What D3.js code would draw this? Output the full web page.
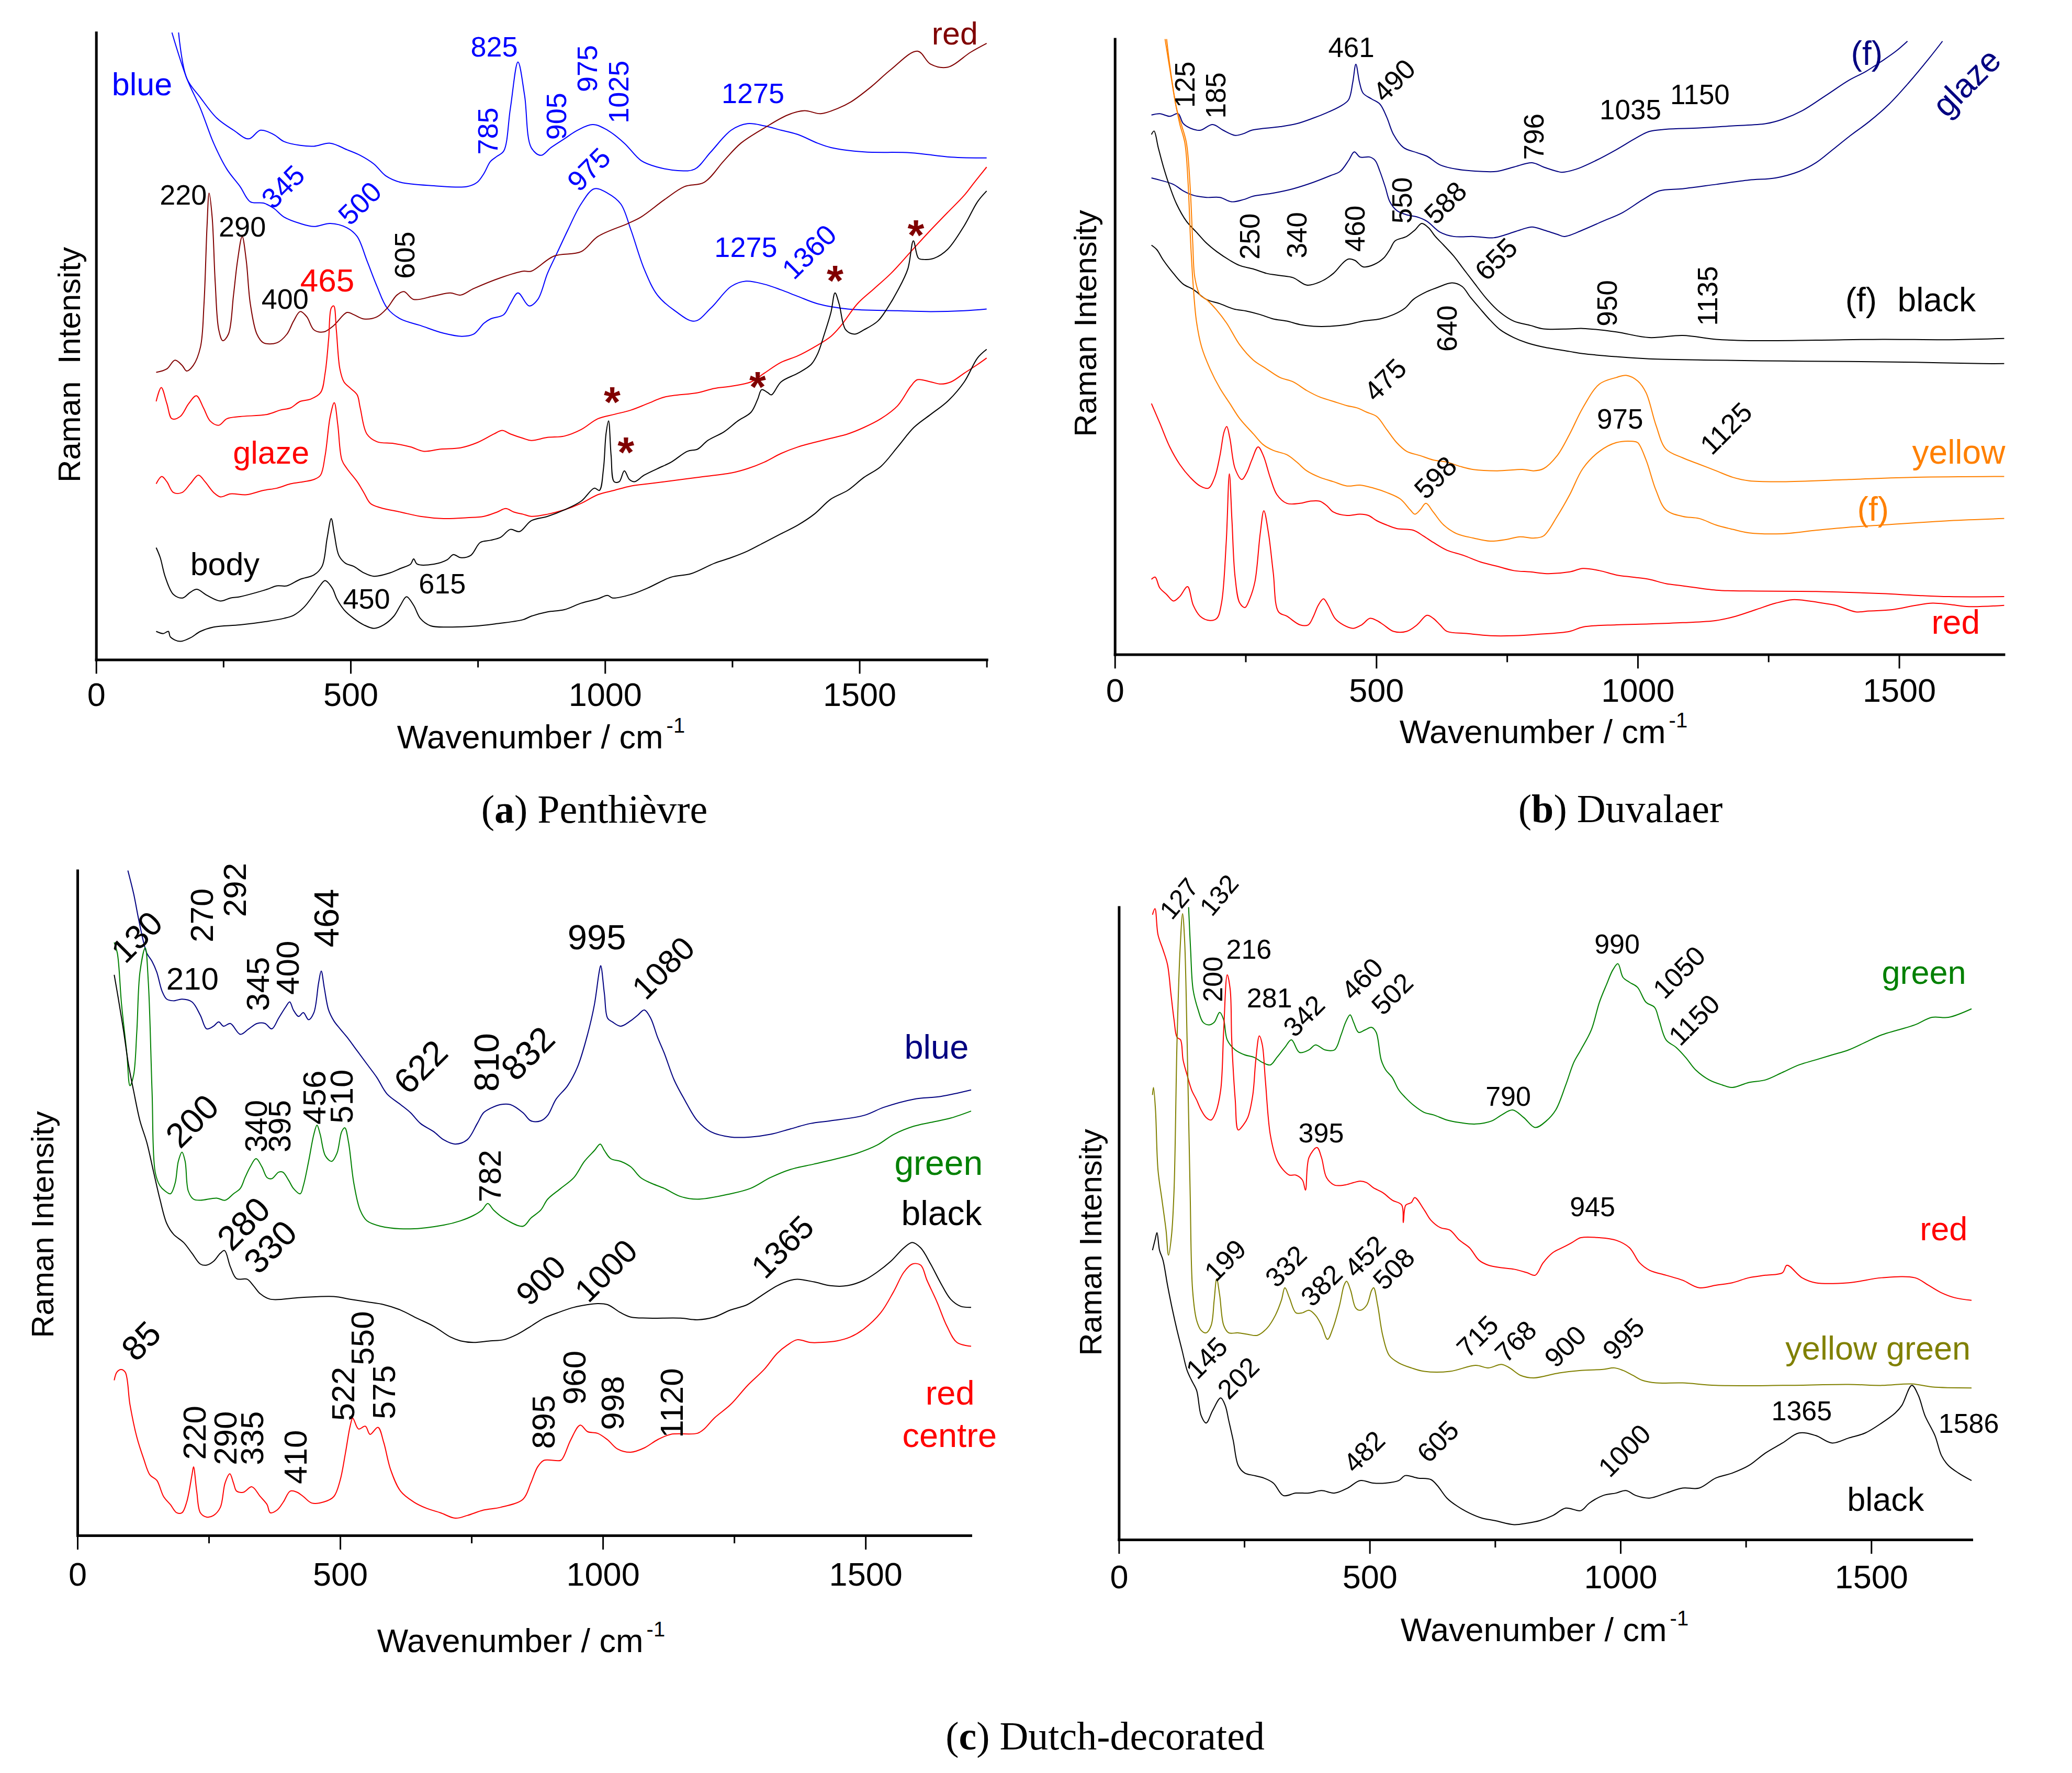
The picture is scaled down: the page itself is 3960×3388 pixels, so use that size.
<!DOCTYPE html>
<html>
<head>
<meta charset="utf-8">
<script src="https://cdn.jsdelivr.net/npm/d3@7"></script>
<style>
  html, body { margin: 0; padding: 0; background: #fff; }
  svg text { font-family: "Liberation Sans", Arial, sans-serif; white-space: pre; }
</style>
</head>
<body>
<svg id="fig" width="3960" height="3388"></svg>
<script>
// ---- Raman spectra, [wavenumber cm-1, intensity a.u.] ----

// (a) Penthievre
const aBlueTop = [[162,1445],[178,1340],[205,1295],[237,1248],[270,1220],[300,1200],[323,1220],[349,1210],[369,1194],[401,1185],[428,1183],[460,1190],[493,1175],[519,1162],[546,1142],[569,1115],[598,1100],[664,1092],[729,1090],[749,1100],[762,1120],[775,1148],[788,1160],[801,1172],[814,1270],[829,1377],[842,1300],[855,1180],[874,1162],[894,1180],[920,1200],[946,1220],[976,1233],[1005,1220],[1038,1190],[1071,1150],[1103,1135],[1143,1127],[1176,1130],[1208,1170],[1248,1220],[1280,1235],[1313,1230],[1346,1220],[1379,1210],[1418,1190],[1444,1180],[1509,1170],[1601,1168],[1680,1158],[1750,1156]];
const aBlueLow = [[149,1445],[178,1340],[205,1270],[231,1190],[257,1130],[283,1090],[303,1055],[329,1052],[349,1040],[369,1020],[401,1005],[428,998],[460,1005],[493,995],[513,975],[532,920],[552,860],[572,810],[598,785],[637,770],[683,752],[719,745],[742,750],[762,775],[775,785],[801,795],[814,820],[829,845],[851,815],[868,830],[887,890],[907,940],[927,990],[953,1050],[979,1085],[1005,1075],[1031,1050],[1051,990],[1077,900],[1103,840],[1136,805],[1176,780],[1208,810],[1248,860],[1277,872],[1313,865],[1346,852],[1379,837],[1418,820],[1477,808],[1575,804],[1640,802],[1706,804],[1750,808]];
const aRed = [[118,662],[139,670],[155,690],[169,678],[178,665],[191,678],[205,720],[212,820],[218,1000],[222,1075],[228,1020],[234,870],[241,760],[249,735],[260,750],[270,840],[278,920],[287,975],[295,920],[303,820],[316,750],[329,730],[355,730],[375,750],[388,780],[401,802],[414,790],[428,760],[447,755],[467,770],[493,800],[506,795],[526,785],[552,790],[572,810],[591,840],[605,848],[624,830],[664,838],[696,845],[716,840],[742,855],[795,880],[839,895],[855,895],[900,930],[953,940],[986,975],[1045,1005],[1071,1020],[1117,1060],[1156,1090],[1195,1100],[1234,1150],[1267,1190],[1313,1225],[1359,1255],[1392,1265],[1424,1258],[1457,1270],[1483,1285],[1523,1320],[1562,1360],[1614,1402],[1640,1372],[1673,1365],[1719,1400],[1750,1420]];
const aGlazeTop = [[118,595],[128,627],[139,590],[149,555],[165,560],[182,590],[197,608],[211,580],[224,550],[241,540],[257,555],[283,560],[336,565],[362,575],[382,580],[401,595],[421,600],[441,615],[450,660],[457,740],[462,810],[467,815],[472,760],[479,670],[487,640],[500,625],[513,610],[519,580],[532,520],[552,502],[585,498],[618,490],[644,480],[677,485],[716,488],[749,500],[782,520],[798,528],[814,520],[839,510],[855,505],[887,512],[920,515],[953,530],[986,555],[1018,565],[1051,575],[1084,590],[1117,605],[1182,615],[1215,625],[1248,630],[1287,640],[1313,660],[1346,685],[1379,700],[1411,720],[1444,745],[1464,770],[1496,820],[1529,855],[1562,890],[1601,940],[1640,990],[1673,1030],[1706,1070],[1726,1100],[1750,1135]];
const aGlazeLow = [[118,405],[129,422],[139,410],[152,385],[169,385],[185,405],[201,425],[214,410],[231,385],[244,375],[264,382],[296,380],[329,390],[355,395],[382,405],[408,410],[428,415],[441,425],[450,470],[460,560],[468,592],[475,540],[483,460],[493,440],[513,410],[526,385],[539,360],[559,350],[598,340],[637,330],[683,325],[729,327],[762,330],[788,340],[805,348],[821,340],[839,335],[855,330],[887,335],[920,345],[953,360],[986,380],[1018,390],[1051,400],[1084,405],[1117,410],[1182,420],[1248,430],[1280,440],[1313,455],[1346,475],[1379,490],[1444,510],[1477,520],[1509,535],[1542,555],[1575,585],[1601,630],[1614,645],[1640,640],[1660,635],[1680,640],[1706,660],[1732,680],[1750,695]];
const aBodyTop = [[118,258],[126,235],[136,190],[152,150],[170,142],[185,155],[198,162],[218,148],[244,135],[264,142],[283,145],[316,155],[336,162],[355,170],[375,170],[401,185],[428,195],[444,215],[454,280],[462,325],[468,290],[477,240],[490,222],[506,215],[526,200],[546,192],[578,200],[598,210],[618,220],[624,232],[631,220],[664,220],[690,230],[702,242],[716,235],[736,240],[755,270],[775,275],[795,282],[814,300],[832,295],[855,320],[887,330],[920,345],[953,365],[979,395],[989,390],[997,440],[1002,520],[1007,550],[1012,470],[1018,410],[1028,410],[1038,435],[1048,415],[1058,410],[1077,425],[1103,440],[1130,455],[1162,480],[1182,485],[1202,505],[1234,525],[1261,550],[1287,570],[1300,600],[1308,622],[1320,615],[1327,610],[1346,640],[1379,660],[1405,680],[1418,705],[1431,750],[1444,800],[1452,845],[1460,820],[1473,760],[1490,750],[1509,760],[1536,780],[1555,810],[1575,850],[1595,900],[1606,965],[1616,925],[1627,922],[1647,925],[1673,945],[1706,1000],[1732,1055],[1750,1080]];
const aBodyLow = [[118,65],[132,60],[142,65],[146,52],[165,42],[185,50],[205,65],[231,75],[283,80],[336,88],[369,95],[388,102],[408,120],[428,150],[441,172],[450,182],[464,165],[473,140],[487,115],[506,95],[526,80],[546,72],[565,80],[585,100],[598,125],[610,145],[624,125],[637,95],[657,78],[696,75],[742,77],[782,82],[839,92],[855,100],[887,110],[920,115],[953,130],[986,140],[1005,148],[1015,142],[1051,150],[1084,165],[1130,190],[1169,198],[1215,222],[1248,235],[1280,250],[1313,270],[1346,290],[1379,310],[1411,335],[1444,370],[1477,390],[1509,420],[1542,445],[1575,490],[1607,535],[1640,565],[1673,595],[1706,640],[1732,695],[1750,715]];
const aStars = [[1014,615],[1041,500],[1300,650],[1452,895],[1611,1000]];

// (b) Duvalaer
const bGlazeF = [[70,1243],[86,1246],[105,1240],[121,1246],[131,1223],[150,1210],[164,1208],[187,1221],[207,1208],[230,1196],[246,1200],[262,1208],[316,1216],[348,1223],[380,1236],[405,1248],[431,1263],[447,1278],[455,1318],[461,1360],[468,1318],[475,1293],[491,1280],[507,1268],[520,1238],[533,1198],[552,1168],[578,1156],[597,1148],[622,1128],[654,1118],[699,1113],[731,1113],[763,1123],[798,1133],[820,1123],[846,1113],[855,1111],[882,1118],[920,1138],[959,1163],[997,1190],[1022,1205],[1054,1210],[1118,1213],[1182,1218],[1245,1223],[1277,1233],[1315,1253],[1360,1288],[1404,1323],[1436,1343],[1468,1368],[1494,1390],[1516,1413]];
const bGlaze = [[70,1098],[86,1093],[112,1083],[131,1068],[150,1058],[175,1053],[201,1053],[223,1043],[246,1048],[265,1056],[303,1063],[341,1073],[380,1088],[412,1103],[431,1113],[447,1138],[458,1158],[469,1146],[488,1146],[498,1138],[507,1113],[517,1078],[526,1043],[539,1023],[558,1013],[578,1008],[597,998],[622,973],[648,963],[686,963],[724,960],[750,968],[775,978],[798,985],[820,978],[846,968],[860,963],[895,978],[933,998],[971,1018],[1010,1048],[1041,1068],[1086,1073],[1150,1083],[1213,1093],[1264,1098],[1309,1113],[1341,1133],[1373,1163],[1404,1193],[1443,1228],[1481,1268],[1519,1318],[1557,1373],[1583,1413]];
const bBlackF = [[70,1198],[75,1206],[83,1168],[93,1123],[105,1078],[118,1038],[137,998],[156,973],[175,948],[195,928],[220,908],[239,896],[265,888],[290,878],[316,873],[341,868],[367,851],[392,858],[418,878],[437,903],[447,911],[459,908],[475,893],[495,898],[514,913],[526,933],[536,953],[558,963],[574,978],[587,993],[600,983],[613,963],[629,943],[648,918],[667,888],[686,858],[712,818],[737,788],[763,768],[795,758],[820,750],[870,750],[895,751],[959,743],[1022,730],[1086,735],[1150,726],[1213,723],[1341,724],[1468,726],[1596,725],[1701,728]];
const bBlack = [[70,943],[80,933],[93,908],[112,878],[131,853],[150,841],[175,818],[201,808],[227,796],[252,791],[278,783],[303,773],[329,768],[354,760],[380,756],[412,756],[444,760],[475,768],[507,773],[533,783],[555,798],[571,818],[597,836],[616,845],[645,856],[664,848],[680,823],[699,796],[718,770],[737,748],[763,730],[788,718],[820,708],[870,698],[895,693],[959,686],[1022,681],[1150,678],[1277,676],[1404,675],[1532,673],[1659,670],[1701,670]];
const bYellow = [[96,1418],[108,1328],[118,1258],[128,1218],[137,1178],[144,1078],[149,948],[153,868],[163,828],[175,818],[195,793],[214,763],[239,713],[265,678],[290,658],[316,638],[341,628],[367,608],[392,593],[418,583],[444,573],[463,568],[482,558],[501,548],[520,518],[539,488],[558,468],[584,458],[609,448],[635,443],[661,433],[686,426],[731,423],[782,426],[801,423],[820,428],[846,458],[870,508],[895,568],[927,623],[959,638],[978,643],[1000,630],[1016,603],[1035,528],[1054,473],[1086,453],[1118,438],[1150,423],[1182,408],[1213,400],[1277,398],[1404,403],[1532,408],[1701,410]];
const bYellowF = [[99,1418],[105,1358],[115,1278],[124,1223],[134,1178],[140,1088],[145,948],[150,848],[156,768],[166,708],[182,658],[201,613],[220,578],[239,543],[265,508],[284,483],[303,470],[329,460],[348,443],[367,423],[392,408],[418,398],[444,388],[469,390],[495,383],[520,373],[546,358],[565,333],[574,323],[584,333],[595,348],[609,328],[629,298],[654,278],[686,268],[718,261],[750,265],[775,271],[801,268],[820,273],[846,318],[870,368],[895,428],[927,468],[959,488],[990,491],[1000,488],[1016,448],[1035,378],[1054,333],[1086,318],[1118,313],[1150,298],[1182,288],[1213,280],[1277,278],[1341,286],[1404,293],[1468,298],[1596,308],[1701,313]];
const bRedTop = [[70,578],[86,533],[105,478],[124,438],[144,408],[163,388],[179,383],[191,408],[201,458],[209,513],[214,525],[220,498],[230,428],[243,403],[252,418],[262,448],[274,478],[284,458],[297,408],[310,368],[329,348],[354,348],[373,353],[392,353],[405,343],[418,328],[444,320],[469,323],[485,320],[501,308],[520,298],[539,290],[571,286],[590,273],[609,258],[635,240],[667,228],[699,213],[731,203],[763,193],[795,190],[826,186],[870,190],[895,198],[927,193],[959,183],[990,178],[1022,173],[1054,163],[1086,158],[1150,148],[1213,146],[1341,145],[1468,140],[1532,136],[1596,133],[1701,133]];
const bRed = [[70,173],[77,178],[86,153],[99,138],[112,123],[124,133],[139,156],[150,113],[163,88],[182,78],[195,83],[204,118],[213,258],[219,416],[224,308],[230,178],[239,118],[249,108],[258,128],[268,168],[278,278],[285,331],[294,278],[303,188],[313,98],[329,88],[354,68],[370,68],[380,88],[389,113],[399,128],[408,113],[421,83],[437,68],[456,60],[472,68],[488,83],[501,78],[514,68],[533,53],[558,53],[578,68],[597,90],[609,83],[622,68],[635,53],[673,48],[718,43],[763,43],[807,46],[870,53],[895,63],[959,68],[1022,70],[1086,73],[1150,78],[1188,88],[1226,103],[1264,118],[1296,126],[1328,123],[1354,118],[1379,113],[1417,98],[1443,100],[1487,103],[1532,113],[1564,118],[1596,115],[1634,110],[1701,113]];

// (c) Dutch-decorated, left
const cBlue = [[96,1230],[107,1187],[116,1142],[126,1097],[132,1077],[142,1062],[151,1042],[161,1007],[170,992],[183,989],[199,992],[218,987],[234,962],[246,937],[259,942],[269,950],[278,942],[291,947],[310,927],[326,937],[342,947],[357,947],[370,937],[383,957],[396,977],[404,987],[411,972],[421,960],[430,967],[440,954],[450,967],[459,1022],[464,1044],[470,1012],[478,972],[488,952],[500,937],[513,922],[532,897],[551,872],[570,847],[589,817],[615,797],[634,782],[653,762],[678,747],[697,732],[719,724],[742,732],[761,762],[773,782],[786,790],[805,797],[824,797],[848,782],[863,767],[882,767],[895,777],[911,807],[933,832],[952,867],[971,927],[984,982],[993,1042],[996,1054],[1003,1002],[1009,957],[1018,950],[1034,942],[1053,952],[1066,962],[1079,972],[1091,957],[1104,922],[1117,892],[1136,842],[1155,807],[1180,767],[1205,747],[1243,737],[1281,737],[1319,742],[1357,752],[1395,762],[1433,767],[1497,777],[1535,792],[1592,807],[1643,812],[1701,824]];
const cGreen = [[70,1097],[76,1077],[84,982],[94,892],[100,832],[107,852],[113,932],[119,1042],[129,1087],[135,1022],[142,822],[148,672],[157,647],[167,637],[177,632],[186,652],[192,692],[199,709],[205,692],[211,637],[221,622],[234,620],[265,624],[281,620],[297,632],[310,642],[319,662],[329,682],[340,697],[351,682],[361,662],[370,660],[383,672],[391,672],[402,657],[411,642],[424,632],[430,647],[440,692],[450,742],[456,759],[462,742],[472,702],[484,692],[494,707],[503,747],[509,754],[516,727],[526,652],[538,602],[551,582],[577,572],[634,567],[697,574],[729,582],[754,592],[770,602],[781,614],[792,602],[811,587],[848,572],[863,587],[882,602],[895,622],[920,642],[945,662],[965,692],[984,712],[995,724],[1003,712],[1015,697],[1034,692],[1053,682],[1072,662],[1091,652],[1117,642],[1148,627],[1180,622],[1243,632],[1281,642],[1319,662],[1357,677],[1402,687],[1446,697],[1484,707],[1522,722],[1554,742],[1592,757],[1624,764],[1662,772],[1701,785]];
const cBlack = [[70,1037],[78,992],[88,932],[97,872],[107,822],[119,767],[132,727],[145,672],[157,622],[170,577],[183,557],[202,542],[218,522],[234,502],[246,500],[259,507],[272,522],[280,527],[291,497],[303,475],[323,474],[335,462],[348,447],[367,437],[424,440],[488,442],[519,437],[551,432],[583,427],[615,417],[646,402],[678,387],[710,367],[729,360],[754,357],[786,360],[811,362],[837,372],[863,387],[888,402],[914,412],[945,422],[971,427],[990,429],[1009,427],[1034,412],[1053,404],[1085,402],[1148,402],[1180,399],[1212,404],[1243,417],[1275,427],[1307,447],[1332,462],[1357,472],[1370,474],[1402,469],[1433,462],[1465,462],[1497,472],[1522,487],[1548,507],[1573,532],[1589,542],[1605,532],[1624,502],[1643,467],[1662,437],[1681,424],[1701,422]];
const cRed = [[70,287],[75,302],[83,307],[91,302],[100,242],[113,182],[126,142],[138,112],[151,102],[164,72],[177,57],[189,42],[199,42],[208,62],[218,112],[221,127],[227,82],[234,42],[246,34],[259,37],[272,52],[281,97],[290,114],[297,97],[303,82],[316,80],[332,90],[348,72],[361,57],[367,42],[380,47],[392,62],[405,82],[418,80],[430,72],[446,60],[469,62],[488,72],[500,102],[510,152],[519,202],[524,217],[535,197],[548,202],[557,187],[572,200],[583,172],[596,122],[615,82],[640,62],[665,50],[691,42],[719,32],[742,37],[773,47],[805,52],[848,67],[863,97],[876,127],[888,139],[920,139],[926,147],[939,177],[957,204],[971,192],[990,189],[1009,177],[1028,160],[1053,154],[1079,162],[1104,177],[1129,187],[1180,189],[1193,197],[1212,217],[1243,242],[1275,277],[1307,307],[1332,337],[1351,352],[1370,362],[1395,357],[1414,357],[1446,360],[1471,367],[1497,382],[1529,412],[1554,452],[1573,487],[1589,502],[1605,500],[1617,472],[1636,432],[1655,387],[1674,357],[1701,350]];

// (c) Dutch-decorated, right
const dGreen = [[139,1263],[143,1178],[148,1098],[158,1058],[168,1033],[180,1028],[190,1033],[201,1053],[209,1038],[216,998],[232,978],[251,968],[270,963],[286,953],[302,948],[315,963],[331,983],[344,998],[360,973],[379,978],[392,988],[411,978],[430,978],[443,1008],[452,1033],[461,1048],[468,1033],[478,1013],[491,1018],[504,1023],[513,1013],[523,958],[532,938],[545,923],[558,898],[571,883],[587,868],[609,853],[628,848],[654,838],[679,833],[711,830],[743,836],[763,848],[785,858],[807,843],[830,823],[852,836],[871,858],[891,908],[907,953],[921,978],[942,1018],[958,1073],[972,1108],[985,1138],[995,1150],[1005,1123],[1018,1113],[1034,1103],[1051,1073],[1068,1063],[1077,1038],[1091,998],[1111,983],[1130,963],[1150,938],[1177,918],[1203,908],[1223,903],[1256,913],[1289,918],[1323,933],[1356,948],[1389,958],[1422,968],[1455,978],[1488,993],[1521,1008],[1554,1018],[1587,1028],[1621,1043],[1654,1043],[1700,1060]];
const dRed = [[67,1248],[72,1260],[78,1208],[88,1178],[97,1148],[104,1088],[110,1038],[116,1003],[123,998],[128,958],[136,928],[145,898],[155,878],[164,858],[174,843],[184,838],[193,853],[203,898],[209,1018],[216,1128],[222,1098],[225,998],[232,878],[238,818],[248,828],[257,843],[267,888],[273,958],[280,1006],[286,988],[292,918],[302,808],[315,758],[328,738],[340,728],[353,728],[366,718],[372,698],[379,763],[395,783],[404,763],[414,723],[430,708],[449,708],[468,713],[481,716],[494,713],[507,703],[526,693],[545,678],[564,668],[567,633],[572,668],[583,673],[590,683],[609,658],[622,638],[641,623],[660,618],[679,598],[699,583],[718,558],[737,548],[763,543],[788,540],[814,533],[830,528],[846,553],[865,573],[884,583],[903,593],[921,603],[958,603],[991,598],[1018,583],[1038,553],[1058,538],[1091,528],[1124,518],[1157,503],[1190,508],[1223,513],[1256,523],[1289,528],[1323,533],[1332,548],[1362,523],[1389,513],[1455,513],[1521,523],[1587,523],[1614,508],[1640,493],[1667,483],[1700,478]];
const dOlive = [[67,888],[69,903],[73,858],[78,738],[86,678],[94,618],[99,568],[105,608],[110,698],[116,998],[122,1178],[127,1250],[131,1198],[136,998],[142,698],[147,498],[155,438],[164,418],[174,413],[184,428],[190,478],[195,521],[201,488],[209,428],[219,413],[238,413],[257,410],[276,408],[296,423],[312,448],[324,478],[331,503],[340,483],[353,453],[366,453],[379,458],[392,448],[404,428],[416,400],[427,423],[440,468],[449,508],[454,516],[462,498],[472,463],[481,458],[494,468],[504,498],[508,503],[516,468],[526,408],[539,368],[558,353],[583,343],[609,336],[660,336],[711,348],[737,343],[763,350],[779,343],[801,328],[827,323],[878,333],[921,338],[965,340],[988,343],[1005,338],[1025,328],[1044,318],[1071,313],[1124,313],[1190,308],[1323,308],[1455,310],[1521,308],[1581,311],[1621,305],[1700,303]];
const dBlack = [[67,578],[72,598],[76,613],[81,578],[88,558],[97,508],[107,458],[116,418],[126,378],[136,338],[145,318],[155,298],[164,248],[174,233],[187,258],[203,283],[212,268],[219,238],[228,198],[238,148],[251,133],[270,128],[289,123],[308,113],[328,88],[353,93],[379,93],[404,98],[430,93],[456,103],[481,118],[507,113],[532,113],[558,118],[571,128],[596,123],[622,120],[635,108],[654,83],[673,68],[699,53],[724,43],[750,38],[788,30],[814,33],[839,38],[865,48],[891,63],[921,58],[938,73],[965,88],[991,93],[1011,98],[1031,88],[1058,83],[1091,93],[1124,103],[1157,103],[1190,123],[1223,133],[1256,148],[1289,173],[1323,193],[1356,213],[1389,208],[1422,193],[1455,203],[1488,213],[1521,233],[1548,253],[1561,268],[1581,308],[1594,288],[1607,248],[1627,208],[1640,168],[1654,148],[1674,133],[1700,118]];

const tickLabels = [0, 500, 1000, 1500];

// peak labels: [text, wavenumber, intensity, rotation, colour, font size]
const aLabels = [
  ['blue',31,1300,0,'blue',61],['825',736,1390,0,'blue',54],['785',769,1218,-90,'blue',54],
  ['345',367,1090,-45,'blue',54],['500',518,1052,-45,'blue',54],
  ['220',125,1048,0,'black',54],['290',241,975,0,'black',54],['400',325,808,0,'black',54],
  ['465',401,848,0,'red',62],['605',606,932,-90,'black',54],['glaze',269,452,0,'red',61],
  ['body',185,195,0,'black',61],['450',485,118,0,'black',54],['615',634,152,0,'black',54],
  ['975',965,1362,-90,'blue',54],['905',904,1252,-90,'blue',54],['1025',1026,1308,-90,'blue',54],
  ['1275',1229,1282,0,'blue',54],['975',968,1130,-45,'blue',54],['1275',1215,928,0,'blue',54],
  ['1360',1401,940,-45,'blue',54],['red',1642,1417,0,'darkred',61]
];
const bLabels = [
  ['461',408,1376,0,'black',53],['490',534,1323,-45,'black',53],['125',134,1313,-90,'black',53],
  ['185',193,1288,-90,'black',53],['796',801,1193,-90,'black',53],['250',258,963,-90,'black',53],
  ['340',348,966,-90,'black',53],['460',459,981,-90,'black',53],['550',549,1046,-90,'black',53],
  ['588',632,1041,-45,'black',53],['655',729,911,-45,'black',53],['640',635,751,-90,'black',53],
  ['475',517,633,-45,'black',53],['598',613,408,-45,'black',53],
  ['(f)',1408,1358,0,'navy',64],['glaze',1629,1318,-45,'navy',64],
  ['1035',927,1233,0,'black',53],['1150',1062,1268,0,'black',53],
  ['950',942,809,-90,'black',53],['1135',1134,826,-90,'black',53],
  ['(f)',1397,790,0,'black',64],['black',1497,790,0,'black',64],
  ['975',922,520,0,'black',53],['1125',1169,521,-45,'black',53],
  ['yellow',1525,440,0,'orange',64],['(f)',1420,308,0,'orange',64],['red',1562,48,0,'red',64]
];
const cLabels = [
  ['130',113,1107,-45,'black',64],['270',237,1147,-90,'black',62],['292',299,1194,-90,'black',62],
  ['210',169,1010,0,'black',60],['345',343,1020,-90,'black',62],['400',400,1050,-90,'black',62],
  ['464',474,1142,-90,'black',67],['622',653,867,-45,'black',67],['810',778,875,-90,'black',67],
  ['832',857,892,-45,'black',67],['200',218,767,-45,'black',66],['340',340,757,-90,'black',60],
  ['395',385,757,-90,'black',60],['456',451,810,-90,'black',62],['510',502,812,-90,'black',62],
  ['782',785,665,-90,'black',60],['280',316,577,-45,'black',66],['330',367,534,-45,'black',66],
  ['85',121,360,-45,'black',66],['220',223,190,-90,'black',62],['290',281,180,-90,'black',62],
  ['335',332,180,-90,'black',62],['410',415,145,-90,'black',62],['522',505,262,-90,'black',62],
  ['550',542,365,-90,'black',62],['575',583,265,-90,'black',62],
  ['995',933,1084,0,'black',67],['1080',1115,1050,-45,'black',62],
  ['blue',1574,882,0,'navy',65],['green',1555,667,0,'green',66],['black',1568,574,0,'black',66],
  ['900',882,472,-45,'black',62],['1000',1006,490,-45,'black',62],['1365',1342,534,-45,'black',62],
  ['895',887,210,-90,'black',62],['960',946,292,-90,'black',62],['998',1018,245,-90,'black',62],
  ['1120',1131,245,-90,'black',62],['red',1614,242,0,'red',65],['centre',1570,164,0,'red',65]
];
const dLabels = [
  ['127',120,1280,-50,'black',50],['132',200,1287,-50,'black',50],['216',214,1160,0,'black',52],
  ['200',187,1119,-90,'black',52],['281',255,1063,0,'black',52],['342',369,1046,-45,'black',52],
  ['460',485,1120,-45,'black',52],['502',545,1090,-45,'black',52],['790',731,866,0,'black',52],
  ['395',358,793,0,'black',52],['199',212,558,-45,'black',52],['332',333,546,-45,'black',52],
  ['382',404,508,-45,'black',52],['452',491,566,-45,'black',52],['508',548,541,-45,'black',52],
  ['715',715,406,-45,'black',52],['768',791,396,-45,'black',52],['900',890,386,-45,'black',52],
  ['145',175,363,-45,'black',52],['202',238,323,-45,'black',52],['482',489,176,-45,'black',52],
  ['605',636,196,-45,'black',52],['990',948,1170,0,'black',52],['1050',1117,1133,-45,'black',52],
  ['1150',1147,1038,-45,'black',52],['green',1521,1110,0,'green',63],['945',899,646,0,'black',52],
  ['red',1597,598,0,'red',63],['995',1006,401,-45,'black',52],['yellow green',1329,360,0,'olive',63],
  ['1365',1301,238,0,'black',52],['1586',1634,213,0,'black',52],['1000',1008,178,-45,'black',52],
  ['black',1452,58,0,'black',63]
];

const colours = {
  blue: '#0000ff', navy: '#000080', darkred: '#800000', red: '#ff0000',
  black: '#000000', orange: '#ff8000', green: '#008000', olive: '#808000'
};

const panels = [
  { x0: 183.7, x1: 1885.7, xMax: 1750, yBottom: 1260.4, yTop: 62.2, iMax: 1445,
    series: [[aBlueTop,'blue'],[aBlueLow,'blue'],[aRed,'darkred'],[aGlazeTop,'red'],[aGlazeLow,'red'],[aBodyTop,'black'],[aBodyLow,'black']],
    labels: aLabels, stars: aStars, yTitle: 'Raman  Intensity', yTitleX: 132, yTitleY: 697,
    tickPad: 17, xTitleX: 1034, xTitleY: 1430 },
  { x0: 2130.7, x1: 3829.4, xMax: 1700, yBottom: 1250.4, yTop: 74.6, iMax: 1418,
    series: [[bGlazeF,'navy'],[bGlaze,'navy'],[bBlackF,'black'],[bBlack,'black'],[bYellow,'orange'],[bYellowF,'orange'],[bRedTop,'red'],[bRed,'red']],
    labels: bLabels, stars: [], yTitle: 'Raman Intensity', yTitleX: 2074, yTitleY: 618,
    tickPad: 19, xTitleX: 2950, xTitleY: 1420 },
  { x0: 148, x1: 1855, xMax: 1700, yBottom: 2934.1, yTop: 1663.4, iMax: 1230,
    series: [[cBlue,'navy'],[cGreen,'green'],[cBlack,'black'],[cRed,'red']],
    labels: cLabels, stars: [], yTitle: 'Raman Intensity', yTitleX: 81, yTitleY: 2340,
    tickPad: 24, xTitleX: 996, xTitleY: 3157 },
  { x0: 2138.4, x1: 3768, xMax: 1700, yBottom: 2942.1, yTop: 1733.5, iMax: 1263,
    series: [[dGreen,'green'],[dRed,'red'],[dOlive,'olive'],[dBlack,'black']],
    labels: dLabels, stars: [], yTitle: 'Raman Intensity', yTitleX: 2084, yTitleY: 2374,
    tickPad: 21, xTitleX: 2952, xTitleY: 3136 }
];

const captions = [
  { letter: 'a', text: ' Penthièvre', x: 1136, y: 1572 },
  { letter: 'b', text: ' Duvalaer', x: 3097, y: 1571 },
  { letter: 'c', text: ' Dutch-decorated', x: 2112, y: 3343 }
];

const svg = d3.select('#fig');
svg.append('rect').attr('width', 3960).attr('height', 3388).attr('fill', '#fff');

panels.forEach(p => {
  const x = d3.scaleLinear().domain([0, p.xMax]).range([p.x0, p.x1]);
  const y = d3.scaleLinear().domain([0, p.iMax]).range([p.yBottom, p.yTop]);
  const g = svg.append('g');

  const line = d3.line()
    .x(d => x(d[0]))
    .y(d => y(d[1]))
    .curve(d3.curveCatmullRom.alpha(0.5));

  g.selectAll('path.spec')
    .data(p.series)
    .enter()
    .append('path')
    .attr('class', 'spec')
    .attr('d', d => line(d[0]))
    .attr('fill', 'none')
    .attr('stroke', d => colours[d[1]])
    .attr('stroke-width', 2)
    .attr('stroke-linejoin', 'round');

  // x axis, major ticks every 500 with labels, minor at 250
  const xAxis = d3.axisBottom(x)
    .tickValues(d3.range(0, p.xMax + 1, 250))
    .tickFormat(d => tickLabels.includes(d) ? d : '')
    .tickSize(27)
    .tickSizeOuter(0)
    .tickPadding(p.tickPad);
  const gx = g.append('g')
    .attr('transform', 'translate(0,' + p.yBottom + ')')
    .call(xAxis)
    .attr('font-size', 63)
    .attr('font-family', '"Liberation Sans", Arial, sans-serif');
  gx.select('.domain').attr('stroke-width', 5).attr('stroke-linecap', 'square');
  gx.selectAll('.tick line')
    .attr('stroke-width', 3)
    .attr('y2', d => d % 500 === 0 ? 27 : 15);
  gx.selectAll('.tick text').attr('fill', '#000');

  const gy = g.append('g')
    .attr('transform', 'translate(' + p.x0 + ',0)')
    .call(d3.axisLeft(y).tickValues([]).tickSizeOuter(0));
  gy.select('.domain').attr('stroke-width', 5).attr('stroke-linecap', 'square');

  // axis titles
  const xt = g.append('text')
    .attr('x', p.xTitleX).attr('y', p.xTitleY)
    .attr('text-anchor', 'middle')
    .attr('font-size', 63)
    .text('Wavenumber / cm');
  xt.append('tspan').attr('dx', 6).attr('dy', -30).attr('font-size', 40).text('-1');

  g.append('text')
    .attr('transform', 'translate(' + p.yTitleX + ',' + p.yTitleY + ') rotate(-90)')
    .attr('text-anchor', 'middle')
    .attr('dominant-baseline', 'central')
    .attr('font-size', 60)
    .text(p.yTitle);

  // peak annotations
  p.labels.forEach(l => {
    const [t, wn, inten, rot, col, size] = l;
    const tx = g.append('text')
      .attr('font-size', size)
      .attr('fill', colours[col])
      .text(t);
    if (rot === 0) {
      tx.attr('x', x(wn)).attr('y', y(inten)).attr('text-anchor', 'start');
    } else {
      tx.attr('transform', 'translate(' + x(wn) + ',' + y(inten) + ') rotate(' + rot + ')')
        .attr('text-anchor', 'middle')
        .attr('dominant-baseline', 'central');
    }
  });

  // asterisks marking the artefact peaks
  g.selectAll('text.star')
    .data(p.stars)
    .enter()
    .append('text')
    .attr('class', 'star')
    .attr('x', d => x(d[0]))
    .attr('y', d => y(d[1]))
    .attr('dy', '0.56em')
    .attr('text-anchor', 'middle')
    .attr('font-size', 82)
    .attr('font-weight', 'bold')
    .attr('fill', colours.darkred)
    .text('*');
});

captions.forEach(c => {
  const t = svg.append('text')
    .attr('x', c.x).attr('y', c.y)
    .attr('text-anchor', 'middle')
    .attr('font-size', 76)
    .style('font-family', '"Liberation Serif", "Times New Roman", serif');
  t.append('tspan').text('(');
  t.append('tspan').attr('font-weight', 'bold').text(c.letter);
  t.append('tspan').text(')' + c.text);
});
</script>
</body>
</html>
